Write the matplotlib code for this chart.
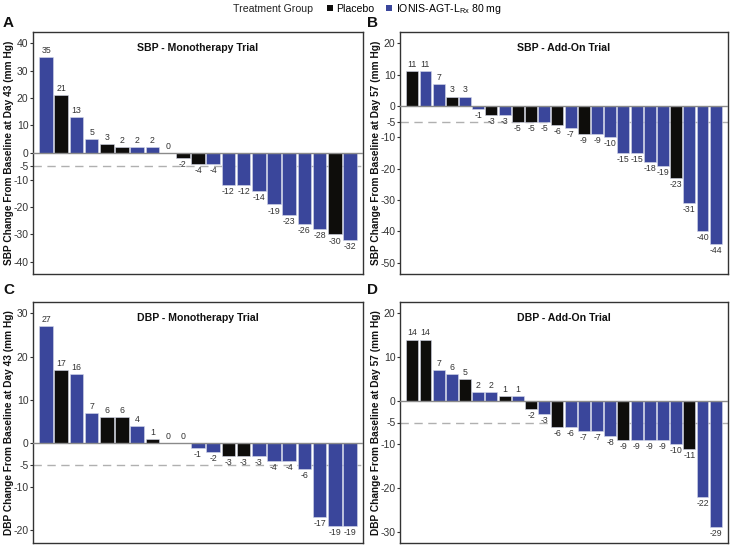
import matplotlib
matplotlib.use("Agg")
import matplotlib.pyplot as plt
from matplotlib.patches import Patch

plt.rcParams['font.family'] = ['Liberation Sans', 'DejaVu Sans']
plt.rcParams['mathtext.fontset'] = 'custom'
plt.rcParams['mathtext.rm'] = 'Liberation Sans'

# ---------------- data ----------------
sbp_mono_vals = [35, 21, 13, 5, 3, 2, 2, 2, 0, -2, -4, -4, -12, -12, -14, -19, -23, -26, -28, -30, -32]
sbp_mono_grp = ['I', 'P', 'I', 'I', 'P', 'P', 'I', 'I', 'I', 'P', 'P', 'I', 'I', 'I', 'I', 'I', 'I', 'I', 'I', 'P', 'I']

sbp_add_vals = [11, 11, 7, 3, 3, -1, -3, -3, -5, -5, -5, -6, -7, -9, -9, -10, -15, -15, -18, -19, -23, -31, -40, -44]
sbp_add_grp = ['P', 'I', 'I', 'P', 'I', 'I', 'P', 'I', 'P', 'P', 'I', 'P', 'I', 'P', 'I', 'I', 'I', 'I', 'I', 'I', 'P', 'I', 'I', 'I']

dbp_mono_vals = [27, 17, 16, 7, 6, 6, 4, 1, 0, 0, -1, -2, -3, -3, -3, -4, -4, -6, -17, -19, -19]
dbp_mono_grp = ['I', 'P', 'I', 'I', 'P', 'P', 'I', 'P', 'I', 'I', 'I', 'I', 'P', 'P', 'I', 'I', 'I', 'I', 'I', 'I', 'I']

dbp_add_vals = [14, 14, 7, 6, 5, 2, 2, 1, 1, -2, -3, -6, -6, -7, -7, -8, -9, -9, -9, -9, -10, -11, -22, -29]
dbp_add_grp = ['P', 'P', 'I', 'I', 'P', 'I', 'I', 'P', 'I', 'P', 'I', 'P', 'I', 'I', 'I', 'I', 'P', 'I', 'I', 'I', 'I', 'P', 'I', 'I']

panel_titles = ['SBP - Monotherapy Trial', 'SBP - Add-On Trial',
                'DBP - Monotherapy Trial', 'DBP - Add-On Trial']
panel_letters = ['A', 'B', 'C', 'D']
ylabels = ['SBP Change From Baseline at Day 43 (mm Hg)',
           'SBP Change From Baseline at Day 57 (mm Hg)',
           'DBP Change From Baseline at Day 43 (mm Hg)',
           'DBP Change From Baseline at Day 57 (mm Hg)']
yticks_list = [[-40, -30, -20, -10, -5, 0, 10, 20, 30, 40],
               [-50, -40, -30, -20, -10, -5, 0, 10, 20],
               [-20, -10, -5, 0, 10, 20, 30],
               [-30, -20, -10, -5, 0, 10, 20]]
threshold = -5
legend_title = 'Treatment Group'
group_names = {'P': 'Placebo', 'I': r'IONIS-AGT-L$_{\mathregular{Rx}}$ 80 mg'}

# ---------------- styling ----------------
colors = {'P': '#0e0d0b', 'I': '#3a469b'}
ylims = [(-44.5, 44.2), (-53.6, 23.6), (-23.0, 32.6), (-32.6, 22.6)]

W, H = 730, 545
fig = plt.figure(figsize=(W / 100, H / 100), dpi=100)

def rect(l, r, t, b):
    return [l / W, 1 - b / H, (r - l) / W, (b - t) / H]

rects = [rect(33, 363, 32, 274), rect(400, 728, 32, 274),
         rect(33, 363, 302, 543), rect(400, 728, 302, 543)]
letter_pos = [(3, 23), (367, 23), (3, 290), (367, 290)]
label_right = [14, 381, 14, 381]

datasets = [(sbp_mono_vals, sbp_mono_grp), (sbp_add_vals, sbp_add_grp),
            (dbp_mono_vals, dbp_mono_grp), (dbp_add_vals, dbp_add_grp)]

for i, (vals, grps) in enumerate(datasets):
    ax = fig.add_axes(rects[i])
    n = len(vals)
    x = list(range(n))
    ax.bar(x, vals, width=0.9, color=[colors[g] for g in grps],
           edgecolor='#d5d8ea', linewidth=0.4, zorder=2)
    ax.axhline(0, color='#8a8a8a', lw=1.0, zorder=3)
    ax.axhline(threshold, color='#b0b0b0', lw=1.0, dashes=(6, 4), zorder=1)
    for xi, v in zip(x, vals):
        if v >= 0:
            ax.annotate(f'{v}', (xi, v), xytext=(0, 1.5), textcoords='offset points',
                        ha='center', va='bottom', fontsize=6.3, color='#333333', zorder=4)
        else:
            ax.annotate(f'{v}', (xi, v), xytext=(0, -1.5), textcoords='offset points',
                        ha='center', va='top', fontsize=6.3, color='#333333', zorder=4)
    pad = 0.86 if n == 21 else 0.93
    ax.set_xlim(-pad, n - 1 + pad)
    ax.set_ylim(*ylims[i])
    ax.set_xticks([])
    ax.set_yticks(yticks_list[i])
    ax.set_yticklabels([str(t) for t in yticks_list[i]])
    ax.tick_params(axis='y', labelsize=7.5, colors='#333333', length=2.5, width=0.8, pad=0.8)
    for s in ax.spines.values():
        s.set_color('#333333')
        s.set_linewidth(1.0)
    ax.set_ylabel(ylabels[i], fontsize=7.3, fontweight='bold', color='#111111')
    l, r = (33, 363) if i % 2 == 0 else (400, 728)
    ax.yaxis.set_label_coords((label_right[i] - l) / (r - l), 0.5)
    ax.text(0.5, 0.955, panel_titles[i], transform=ax.transAxes, ha='center', va='top',
            fontsize=7.6, fontweight='bold', color='#111111')
    lx, ly = letter_pos[i]
    fig.text(lx / W, 1 - ly / H, panel_letters[i], fontsize=11, fontweight='bold',
             ha='left', va='center', color='#111111')

# legend
fig.text(233 / W, 1 - 9 / H, legend_title, fontsize=7.6, ha='left', va='center', color='#222222')
handles = [Patch(facecolor=colors['P'], label=group_names['P']),
           Patch(facecolor=colors['I'], label=group_names['I'])]
fig.legend(handles=handles, loc='center left', bbox_to_anchor=(327 / W, 1 - 9 / H),
           ncol=2, frameon=False, fontsize=7.6, handlelength=0.55, handleheight=0.55,
           handletextpad=0.35, columnspacing=1.1, borderpad=0, borderaxespad=0)

fig.savefig('out.png', dpi=100)
